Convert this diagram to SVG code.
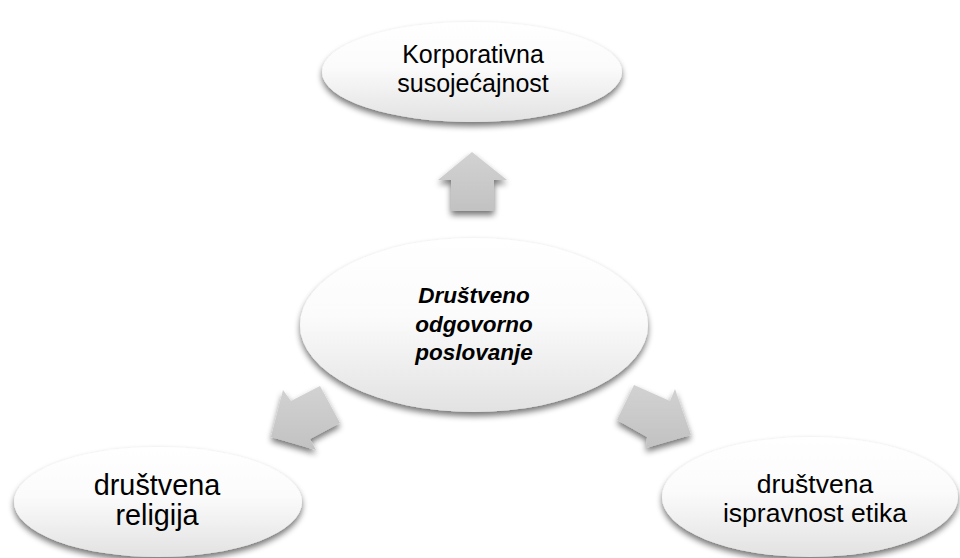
<svg xmlns="http://www.w3.org/2000/svg" width="960" height="558" viewBox="0 0 960 558">
<defs>
<linearGradient id="gEll" x1="0" y1="0" x2="0" y2="1">
<stop offset="0" stop-color="#ffffff"/>
<stop offset="0.45" stop-color="#fbfbfb"/>
<stop offset="1" stop-color="#e2e2e2"/>
</linearGradient>
<linearGradient id="gArr" x1="0" y1="0" x2="0" y2="1">
<stop offset="0" stop-color="#d2d2d2"/>
<stop offset="1" stop-color="#c2c2c2"/>
</linearGradient>
<filter id="sh" x="-20%" y="-20%" width="140%" height="150%">
<feGaussianBlur in="SourceAlpha" stdDeviation="3"/>
<feOffset dx="0" dy="4" result="b"/>
<feComponentTransfer><feFuncA type="linear" slope="0.55"/></feComponentTransfer>
<feMerge><feMergeNode/><feMergeNode in="SourceGraphic"/></feMerge>
</filter>
</defs>
<style>
.node ellipse{fill:url(#gEll);filter:url(#sh);}
.arr{fill:url(#gArr);filter:url(#sh);}
text{font-family:"Liberation Sans",Arial,sans-serif;fill:#000;text-anchor:middle;}
.c{font-weight:bold;font-style:italic;font-size:22.5px;}
</style>
<g id="connectors">
<polygon class="arr" points="472,152 507,180 494,180 494,211 451,211 451,180 438,180"/>
<polygon class="arr" points="271,437 283,390 291,401 320,386 340,423 310,439 316,450"/>
<polygon class="arr" points="691,435 675,389 670,401 634,385 617,420 647,437 646,448"/>
</g>
<g id="node-top" class="node">
<ellipse cx="472" cy="72" rx="150" ry="50"/>
<text x="473" y="63" font-size="25">Korporativna</text>
<text x="473" y="92" font-size="25">susoje&#263;ajnost</text>
</g>
<g id="node-center" class="node">
<ellipse cx="474" cy="325" rx="174" ry="87"/>
<text class="c" x="474" y="302.5">Društveno</text>
<text class="c" x="474" y="331.5">odgovorno</text>
<text class="c" x="474" y="360">poslovanje</text>
</g>
<g id="node-left" class="node">
<ellipse cx="158" cy="502" rx="144" ry="55"/>
<text x="157" y="495" font-size="28.8">društvena</text>
<text x="157" y="525" font-size="28.8">religija</text>
</g>
<g id="node-right" class="node">
<ellipse cx="810" cy="497" rx="148" ry="60"/>
<text x="815" y="493" font-size="26.5">društvena</text>
<text x="815" y="522" font-size="26.5">ispravnost etika</text>
</g>
</svg>
